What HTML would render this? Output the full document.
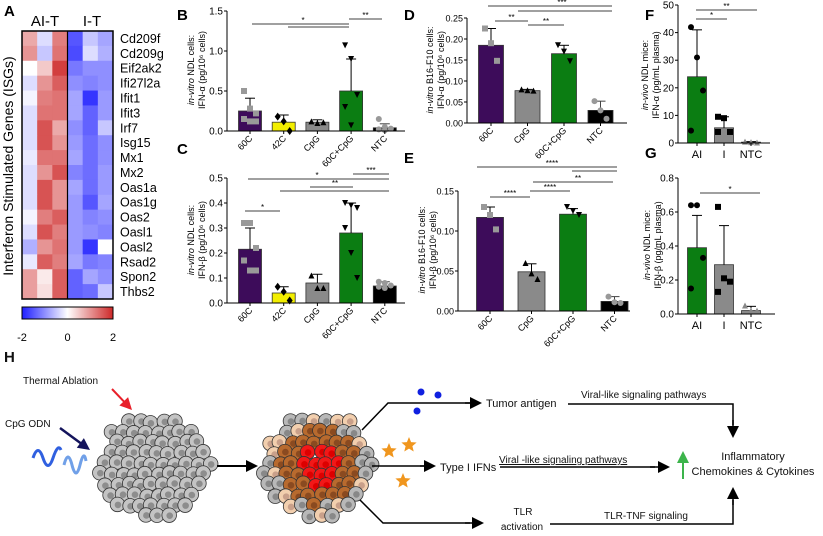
<!DOCTYPE html>
<html><head><meta charset="utf-8"><style>
html,body{margin:0;padding:0;background:#fff;}
svg{display:block;font-family:"Liberation Sans",sans-serif;}
</style></head><body>
<svg id="fig" width="823" height="536" viewBox="0 0 823 536" xmlns="http://www.w3.org/2000/svg">
<g id="hm"></g>
<g id="charts"></g>
<g id="diag"></g>
</svg>
<script>
const NS="http://www.w3.org/2000/svg";
function mk(parent,tag,attrs,text){const e=document.createElementNS(NS,tag);for(const k in attrs)e.setAttribute(k,attrs[k]);if(text!==undefined)e.textContent=text;parent.appendChild(e);return e;}

// ---------- Panel A data ----------
const genes=["Cd209f","Cd209g","Eif2ak2","Ifi27l2a","Ifit1","Ifit3","Irf7","Isg15","Mx1","Mx2","Oas1a","Oas1g","Oas2","Oasl1","Oasl2","Rsad2","Spon2","Thbs2"];
const hmValues=[
[0.8,-0.3,1.2,-1.5,-0.5,-0.8],[1.0,-0.5,1.3,-1.6,-0.3,-0.7],[0,0.5,1.8,-1.2,-1.0,-1.0],
[-0.3,1.0,1.5,-1.0,-1.1,-1.0],[-0.1,1.2,1.3,-0.8,-1.8,-0.9],[-0.3,1.3,1.3,-0.8,-1.4,-0.9],
[-0.3,1.6,0.8,-1.0,-1.4,-0.5],[-0.3,1.6,1.0,-0.9,-1.3,-1.0],[-0.2,1.3,1.3,-0.8,-1.3,-1.0],
[-0.3,1.0,1.6,-1.1,-1.3,-0.9],[-0.3,1.6,1.0,-0.8,-1.3,-0.9],[-0.3,1.6,1.0,-0.9,-1.5,-0.8],
[-0.1,1.2,1.5,-0.9,-1.1,-1.0],[-0.3,1.6,1.2,-0.9,-1.0,-1.1],[-0.7,1.0,1.3,-0.9,-1.8,0],
[-0.2,1.5,1.2,-0.8,-1.2,-1.1],[0.9,0.2,1.5,-1.4,-0.8,-1.0],[0.9,0.3,1.5,-1.4,-1.3,-0.5]];
const cbTicks=["-2","0","2"];

function hmColor(v){v=Math.max(-2,Math.min(2,v));let t=Math.abs(v)/2;
 if(v>=0){return `rgb(${Math.round(255-t*50)},${Math.round(255-t*215)},${Math.round(255-t*215)})`;}
 return `rgb(${Math.round(255-t*225)},${Math.round(255-t*225)},255)`;}

(function(){
 const g=document.getElementById('hm');
 const x0=22,x1=113,y0=31,y1=299,cw=(x1-x0)/6,rh=(y1-y0)/genes.length;
 let t=mk(g,'text',{x:4,y:16,'font-size':15,'font-weight':'bold'},'A');
 t=mk(g,'text',{x:45,y:26,'font-size':15,'text-anchor':'middle'},'AI-T');
 t=mk(g,'text',{x:92,y:26,'font-size':15,'text-anchor':'middle'},'I-T');
 hmValues.forEach((row,r)=>{row.forEach((v,c)=>{
  const rc=mk(g,'rect',{x:x0+c*cw,y:y0+r*rh,width:cw+0.4,height:rh+0.4,fill:hmColor(v)});
  });
  const gl=mk(g,'text',{x:120,y:y0+r*rh+rh/2+4.5,'font-size':12.5},genes[r]);
  });
 mk(g,'rect',{x:x0,y:y0,width:x1-x0,height:y1-y0,fill:'none',stroke:'#000','stroke-width':1.5});
 mk(g,'line',{x1:(x0+x1)/2,x2:(x0+x1)/2,y1:y0,y2:y1,stroke:'#000','stroke-width':1.2});
 t=mk(g,'text',{transform:'translate(13,166) rotate(-90)','font-size':14,'text-anchor':'middle'},'Interferon Stimulated Genes (ISGs)');
 
 const defs=mk(g,'defs',{});const lg=mk(defs,'linearGradient',{id:'cb'});
 mk(lg,'stop',{offset:'0%','stop-color':hmColor(-2)});mk(lg,'stop',{offset:'50%','stop-color':'#fff'});mk(lg,'stop',{offset:'100%','stop-color':hmColor(2)});
 const cb=mk(g,'rect',{x:x0,y:307,width:x1-x0,height:12,fill:'url(#cb)',stroke:'#000','stroke-width':1});
 
 cbTicks.forEach((s,i)=>{const tt=mk(g,'text',{x:x0+i*(x1-x0)/2,y:341,'font-size':11,'text-anchor':'middle'},s);
  });
})();

// ---------- Bar chart data ----------
const bCats=["60C","42C","CpG","60C+CpG","NTC"];
const bVals=[0.25,0.11,0.11,0.5,0.04];
const bErrs=[0.41,0.2,0.14,0.9,0.09];
const bPts=[[0.5,0.28,0.22,0.15,0.12,0.12],[0.18,0.12,0.0],[0.12,0.1,0.11],[1.07,0.9,0.45,0.3,0.07],[0.15,0.05,0.03,0.02,0.01]];
const bTicks=["0.0","0.5","1.0","1.5"];

const cCats=["60C","42C","CpG","60C+CpG","NTC"];
const cVals=[0.215,0.04,0.08,0.28,0.068];
const cErrs=[0.3,0.065,0.115,0.4,0.085];
const cPts=[[0.32,0.32,0.22,0.17,0.13,0.13],[0.065,0.045,0.01],[0.11,0.06,0.06],[0.4,0.39,0.38,0.3,0.2,0.1],[0.085,0.08,0.07,0.065,0.06]];
const cTicks=["0.0","0.1","0.2","0.3","0.4","0.5"];

const dCats=["60C","CpG","60C+CpG","NTC"];
const dVals=[0.185,0.077,0.165,0.03];
const dErrs=[0.225,0.08,0.185,0.052];
const dPts=[[0.225,0.19,0.148],[0.08,0.078,0.077],[0.185,0.17,0.147],[0.052,0.03,0.01]];
const dTicks=["0.00","0.05","0.10","0.15","0.20","0.25"];

const eCats=["60C","CpG","60C+CpG","NTC"];
const eVals=[0.117,0.049,0.121,0.012];
const eErrs=[0.13,0.059,0.128,0.018];
const ePts=[[0.13,0.12,0.102],[0.06,0.047,0.04],[0.13,0.125,0.12],[0.018,0.011,0.01]];
const eTicks=["0.00","0.05","0.10","0.15"];

const fCats=["AI","I","NTC"];
const fVals=[24,5.5,0.3];
const fErrs=[41,9.5,0.5];
const fPts=[[42,31,19,4.5],[9.5,9,4,4],[0.5,0.3,0.2]];
const fTicks=["0","10","20","30","40","50"];

const gCats=["AI","I","NTC"];
const gVals=[0.39,0.29,0.02];
const gErrs=[0.58,0.52,0.045];
const gPts=[[0.64,0.64,0.33,0.15],[0.63,0.21,0.19,0.13],[0.05,0.02,0.02]];
const gTicks=["0.0","0.2","0.4","0.6","0.8"];

const PURPLE="#3d0c5a",YEL="#f2ee00",GRAY="#8a8a8a",GREEN="#0b7d12",BLK="#000";

function marker(g,shape,cx,cy,fill){let e;const s=3;
 if(shape==='sq')e=mk(g,'rect',{x:cx-s,y:cy-s,width:2*s,height:2*s,fill});
 else if(shape==='ci')e=mk(g,'circle',{cx,cy,r:s,fill});
 else if(shape==='di')e=mk(g,'polygon',{points:`${cx},${cy-s-1} ${cx+s},${cy} ${cx},${cy+s+1} ${cx-s},${cy}`,fill});
 else if(shape==='tu')e=mk(g,'polygon',{points:`${cx},${cy-s} ${cx+s},${cy+s} ${cx-s},${cy+s}`,fill});
 else e=mk(g,'polygon',{points:`${cx-s},${cy-s} ${cx+s},${cy-s} ${cx},${cy+s}`,fill});
 }

function chart(o){
 const g=mk(document.getElementById('charts'),'g',{});
 
 const vmax=parseFloat(o.ticks[o.ticks.length-1]);
 const Y=v=>o.y0-(v/vmax)*(o.y0-o.yTop);
 const X=i=>o.xFirst+i*o.step;
 let t=mk(g,'text',{x:o.lx,y:o.ly,'font-size':15,'font-weight':'bold'},o.label);
 
 o.vals.forEach((v,i)=>{
  const cx=X(i);
  const b=mk(g,'rect',{x:cx-o.bw/2,y:Y(v),width:o.bw,height:o.y0-Y(v),fill:o.colors[i],stroke:'#333','stroke-width':0.8});
  
  const ec=o.colors[i]===BLK?'#444':'#000';
  mk(g,'line',{x1:cx,x2:cx,y1:Y(v),y2:Y(o.errs[i]),stroke:ec,'stroke-width':1});
  const eb=mk(g,'line',{x1:cx-5,x2:cx+5,y1:Y(o.errs[i]),y2:Y(o.errs[i]),stroke:ec,'stroke-width':1});
  
  const pts=o.pts[i],n=pts.length;
  pts.forEach((p,k)=>{const off=n>1?(k%3-1)*6:0;marker(g,o.shapes[i],cx+off,Y(p),o.ptColors[i]);});
  let lb;
  if(o.rot){lb=mk(g,'text',{transform:`translate(${cx+3},${o.y0+8}) rotate(-45)`,'font-size':9,'text-anchor':'end'},o.cats[i]);}
  else lb=mk(g,'text',{x:cx,y:o.y0+15,'font-size':11,'text-anchor':'middle'},o.cats[i]);
  
  mk(g,'line',{x1:cx,x2:cx,y1:o.y0,y2:o.y0+3,stroke:'#000'});
 });
 const ax=mk(g,'line',{x1:o.ax,x2:o.ax,y1:o.yTop,y2:o.y0,stroke:'#000','stroke-width':1});
 
 const xa=mk(g,'line',{x1:o.ax,x2:o.axEnd,y1:o.y0,y2:o.y0,stroke:'#000','stroke-width':1});
 
 o.ticks.forEach(s=>{const y=Y(parseFloat(s));
  mk(g,'line',{x1:o.ax-3,x2:o.ax,y1:y,y2:y,stroke:'#000'});
  const tt=mk(g,'text',{x:o.ax-4,y:y+3.5,'font-size':o.tfs||10,'text-anchor':'end'},s);
  });
 const yl=mk(g,'text',{transform:`translate(${o.ylx},${o.yly}) rotate(-90)`,'font-size':9,'text-anchor':'middle'});
 
 mk(yl,'tspan',{x:0,dy:0,'font-style':'italic'},o.yl1a);mk(yl,'tspan',{},o.yl1b);
 mk(yl,'tspan',{x:0,dy:11},o.yl2);
 o.sig.forEach(s=>{const l=mk(g,'line',{x1:s[0],x2:s[1],y1:s[2],y2:s[2],stroke:'#000','stroke-width':0.8});
  
  if(s[3]){const st=mk(g,'text',{x:s[4]||(s[0]+s[1])/2,y:s[2]-1,'font-size':8,'text-anchor':'middle'},s[3]);
   }});
}

chart({name:'panel-b-chart',label:'B',lx:177,ly:20,cats:bCats,vals:bVals,errs:bErrs,pts:bPts,ticks:bTicks,
 ax:227,axEnd:405,y0:131,yTop:11,xFirst:250,step:33.7,bw:23,rot:true,
 colors:[PURPLE,YEL,GRAY,GREEN,BLK],ptColors:['#999','#000','#000','#000','#999'],shapes:['sq','di','tu','td','ci'],
 ylx:194,yly:70,yl1a:'in-vitro',yl1b:' NDL cells:',yl2:'IFN-α (pg/10⁶ cells)',
 sig:[[252,349,24,'*',303],[288,349,27],[349,382,19,'**']]});
chart({name:'panel-c-chart',label:'C',lx:177,ly:154,cats:cCats,vals:cVals,errs:cErrs,pts:cPts,ticks:cTicks,
 ax:227,axEnd:405,y0:303,yTop:178,xFirst:250,step:33.7,bw:23,rot:true,
 colors:[PURPLE,YEL,GRAY,GREEN,BLK],ptColors:['#999','#000','#000','#000','#999'],shapes:['sq','di','tu','td','ci'],
 ylx:194,yly:240,yl1a:'in-vitro',yl1b:' NDL cells:',yl2:'IFN-β (pg/10⁶ cells)',
 sig:[[248,389,179,'*',317],[280,389,191],[310,353,187,'**',335],[353,389,174,'***'],[245,280,211,'*']]});
chart({name:'panel-d-chart',label:'D',lx:404,ly:20,cats:dCats,vals:dVals,errs:dErrs,pts:dPts,ticks:dTicks,
 ax:467,axEnd:627,y0:123,yTop:18,xFirst:491,step:36.5,bw:25,rot:true,tfs:9,
 colors:[PURPLE,GRAY,GREEN,BLK],ptColors:['#999','#000','#000','#999'],shapes:['sq','tu','td','ci'],
 ylx:433,yly:70,yl1a:'in-vitro',yl1b:' B16-F10 cells:',yl2:'IFN-α (pg/10⁶ cells)',
 sig:[[488,612,6,'***',562],[518,612,11],[495,528,21,'**'],[528,564,25,'**']]});
chart({name:'panel-e-chart',label:'E',lx:404,ly:163,cats:eCats,vals:eVals,errs:eErrs,pts:ePts,ticks:eTicks,
 ax:458,axEnd:630,y0:311,yTop:191,xFirst:490,step:41.5,bw:27,rot:true,tfs:9,
 colors:[PURPLE,GRAY,GREEN,BLK],ptColors:['#999','#000','#000','#999'],shapes:['sq','tu','td','ci'],
 ylx:425,yly:250,yl1a:'in-vitro',yl1b:' B16-F10 cells:',yl2:'IFN-β (pg/10⁶ cells)',
 sig:[[477,617,167,'****',552],[572,617,171],[533,613,182,'**',578],[530,570,191,'****'],[490,530,197,'****']]});
chart({name:'panel-f-chart',label:'F',lx:645,ly:20,cats:fCats,vals:fVals,errs:fErrs,pts:fPts,ticks:fTicks,
 ax:678,axEnd:770,y0:143,yTop:5,xFirst:697,step:27,bw:19,rot:false,
 colors:[GREEN,GRAY,GRAY],ptColors:['#000','#000','#888'],shapes:['ci','sq','tu'],
 ylx:648,yly:75,yl1a:'in-vivo',yl1b:' NDL mice:',yl2:'IFN-α (pg/mL plasma)',
 sig:[[696,757,10,'**'],[696,727,19,'*']]});
chart({name:'panel-g-chart',label:'G',lx:645,ly:158,cats:gCats,vals:gVals,errs:gErrs,pts:gPts,ticks:gTicks,
 ax:678,axEnd:775,y0:314,yTop:178,xFirst:697,step:27,bw:19,rot:false,
 colors:[GREEN,GRAY,GRAY],ptColors:['#000','#000','#888'],shapes:['ci','sq','tu'],
 ylx:650,yly:245,yl1a:'in-vivo',yl1b:' NDL mice:',yl2:'IFN-β (pg/mL plasma)',
 sig:[[700,760,193,'*']]});

// ---------- Panel H diagram ----------
(function(){
 const g=document.getElementById('diag');
 function T(x,y,s,name,fs,anchor){const t=mk(g,'text',{x,y,'font-size':fs||11,'text-anchor':anchor||'start',fill:'#111'},s);
  return t;}
 const H=T(4,362,'H','panel-h-label',15);H.setAttribute('font-weight','bold');
 T(23,384,'Thermal Ablation','thermal-ablation-label',10);
 T(5,427,'CpG ODN','cpg-odn-label',10);
 function arrow(x1,y1,x2,y2,col,w,name){const a=Math.atan2(y2-y1,x2-x1),L=12,W=6;
  mk(g,'line',{x1,y1,x2:x2-Math.cos(a)*L*0.8,y2:y2-Math.sin(a)*L*0.8,stroke:col,'stroke-width':w});
  const p=mk(g,'polygon',{points:`${x2},${y2} ${x2-L*Math.cos(a)+W*Math.sin(a)},${y2-L*Math.sin(a)-W*Math.cos(a)} ${x2-L*Math.cos(a)-W*Math.sin(a)},${y2-L*Math.sin(a)+W*Math.cos(a)}`,fill:col});
  }
 arrow(112,389,132,410,'#e8202a',2,'thermal-arrow');
 arrow(60,428,90,450,'#14145c',2.5,'cpg-arrow');
 mk(g,'path',{d:'M33,458 q5,-15 10,0 t10,0 t8,-8',fill:'none',stroke:'#3060e0','stroke-width':3});
 mk(g,'path',{d:'M64,465 q4,-16 8,0 t8,0 t6,-4',fill:'none',stroke:'#70a0e8','stroke-width':3});
 let seed=7;function rnd(){seed=(seed*9301+49297)%233280;return seed/233280;}
 function tumor(cx,cy,R,fn){const cells=[];
  for(let y=-R;y<=R;y+=10.5){const row=Math.round((y+R)/10.5);for(let x=-R;x<=R;x+=11.5){const xx=x+(row%2?5.7:0)+(rnd()-0.5)*3,yy=y+(rnd()-0.5)*3;
   if(Math.hypot(xx,yy)<=R-2+rnd()*5)cells.push([cx+xx,cy+yy,Math.hypot(xx,yy)/R]);}}
  cells.forEach(c=>{const col=fn(c[2]);const ce=mk(g,'circle',{cx:c[0],cy:c[1],r:7.3,fill:col[0],stroke:'#333','stroke-width':0.8});
   
   mk(g,'circle',{cx:c[0]+0.5,cy:c[1]+0.5,r:3.3,fill:col[1]});});}
 tumor(155,466,55,()=>['#c4c4c4','#8d8d8d']);
 tumor(318,466,55,f=>f<0.38?['#f21818','#d00']:f<0.72?['#b86a2e','#8a4a20']:(rnd()<0.5?['#f2cfae','#c9a08a']:['#b8b8b8','#888']));
 arrow(217,466,258,466,'#000',2,'process-arrow');
 mk(g,'polyline',{points:'362,430 388,403 470,403',fill:'none',stroke:'#000','stroke-width':1.5});
 arrow(465,403,482,403,'#000',1.5,'tumor-antigen-arrow');
 mk(g,'line',{x1:372,y1:466,x2:425,y2:466,stroke:'#000','stroke-width':1.5});
 arrow(420,466,436,466,'#000',1.5,'ifn-arrow');
 mk(g,'polyline',{points:'360,500 383,523 470,523',fill:'none',stroke:'#000','stroke-width':1.5});
 arrow(465,523,484,523,'#000',1.5,'tlr-arrow');
 [[421,392],[438,395],[417,411]].forEach(p=>{const c=mk(g,'circle',{cx:p[0],cy:p[1],r:3.5,fill:'#1020e0'});});
 function star(cx,cy,r){let pts=[];for(let i=0;i<10;i++){const a=-Math.PI/2+i*Math.PI/5,rr=i%2?r*0.45:r;pts.push((cx+rr*Math.cos(a)).toFixed(1)+','+(cy+rr*Math.sin(a)).toFixed(1));}
  const s=mk(g,'polygon',{points:pts.join(' '),fill:'#f0961e'});}
 star(389,451,8);star(409,445,8);star(403,481,8);
 T(486,407,'Tumor antigen','tumor-antigen-label',11);
 T(581,398,'Viral-like signaling pathways','viral-like-label-top',10);
 mk(g,'polyline',{points:'568,404 733,404 733,425',fill:'none',stroke:'#000','stroke-width':1.5});
 arrow(733,420,733,438,'#000',1.5,'down-arrow');
 T(440,471,'Type I IFNs','type-i-ifns-label',11);
 const vt=T(499,463,'Viral -like signaling pathways','viral-like-label-mid',10);vt.setAttribute('text-decoration','underline');
 mk(g,'line',{x1:500,y1:467,x2:655,y2:467,stroke:'#000','stroke-width':1.5});
 arrow(650,467,670,467,'#000',1.5,'mid-arrow');
 arrow(683,479,683,451,'#3cb44b',2,'increase-arrow');
 T(753,460,'Inflammatory','inflammatory-label',11,'middle');
 T(753,475,'Chemokines & Cytokines','chemokines-label',11,'middle');
 T(523,515,'TLR','tlr-label',10,'middle');
 T(522,530,'activation','activation-label',10,'middle');
 T(604,519,'TLR-TNF signaling','tlr-tnf-label',10);
 mk(g,'polyline',{points:'550,524 733,524 733,500',fill:'none',stroke:'#000','stroke-width':1.5});
 arrow(733,505,733,487,'#000',1.5,'up-arrow');
})();
</script>
</body></html>
